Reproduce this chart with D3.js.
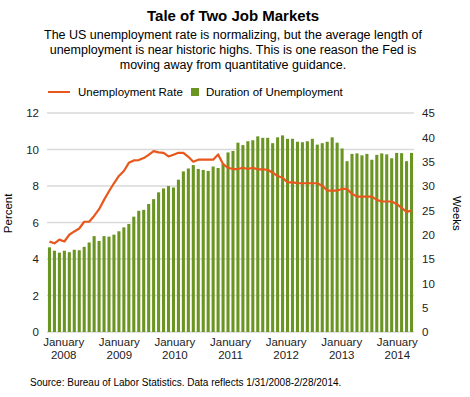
<!DOCTYPE html>
<html>
<head>
<meta charset="utf-8">
<script src="https://cdn.jsdelivr.net/npm/d3@7"></script>
<style>
  body { margin: 0; background: #fff; }
  svg { font-family: "Liberation Sans", Arial, sans-serif; }
</style>
</head>
<body>
<div id="chart"></div>
<script>
// monthly data, Jan 2008 - Feb 2014
const months = d3.timeMonth.range(new Date(2008, 0, 1), new Date(2014, 2, 1));

// unemployment rate, percent
const rate = [4.95, 4.86, 5.06, 4.96, 5.33, 5.51, 5.67, 6.04, 6.04, 6.36,
  6.73, 7.24, 7.71, 8.15, 8.55, 8.82, 9.27, 9.4, 9.42, 9.53,
  9.71, 9.91, 9.84, 9.82, 9.62, 9.71, 9.82, 9.82, 9.6, 9.33,
  9.44, 9.44, 9.44, 9.44, 9.73, 9.2, 9.0, 8.93, 8.93, 9.0,
  8.93, 9.0, 8.91, 8.91, 8.89, 8.73, 8.55, 8.45, 8.2, 8.2,
  8.16, 8.15, 8.15, 8.15, 8.15, 8.02, 7.75, 7.75, 7.75, 7.84,
  7.84, 7.57, 7.42, 7.42, 7.42, 7.42, 7.24, 7.15, 7.15, 7.15,
  7.02, 6.8, 6.58, 6.65];

// average duration of unemployment, weeks
const duration = [17.4, 16.7, 16.3, 16.7, 16.4, 16.9, 16.8, 17.5, 18.4, 19.7,
  18.7, 19.7, 19.6, 20.0, 20.7, 21.5, 22.2, 23.7, 24.9, 25.1,
  26.3, 27.3, 28.7, 29.5, 30.0, 29.7, 31.3, 33.0, 33.6, 34.3,
  33.5, 33.3, 33.1, 34.0, 33.7, 34.6, 36.9, 37.2, 38.9, 38.4,
  39.2, 39.4, 40.2, 39.9, 39.9, 38.8, 40.0, 40.4, 39.7, 39.7,
  39.1, 39.0, 39.2, 39.7, 38.5, 38.8, 39.1, 40.0, 38.9, 37.7,
  35.1, 36.6, 36.7, 36.3, 36.6, 35.4, 36.4, 36.7, 36.5, 35.7,
  36.8, 36.75, 35.1, 36.8];

const yearLabels = ["2008", "2009", "2010", "2011", "2012", "2013", "2014"];
const percentTicks = [0, 2, 4, 6, 8, 10, 12];
const weekTicks = [0, 5, 10, 15, 20, 25, 30, 35, 40, 45];

const width = 470, height = 397;
const margin = {top: 113, right: 56, bottom: 65, left: 47};
const orange = "#e8571b", green = "#6b9523";

const svg = d3.select("#chart").append("svg")
  .attr("width", width)
  .attr("height", height);

const x = d3.scaleBand()
  .domain(months.map((d, i) => i))
  .range([margin.left, width - margin.right])
  .paddingInner(0.38)
  .paddingOuter(0.19);

const yL = d3.scaleLinear().domain([0, 12]).range([height - margin.bottom, margin.top]);
const yR = d3.scaleLinear().domain([0, 45]).range([height - margin.bottom, margin.top]);

// title + subtitle
svg.append("text")
  .attr("x", 233).attr("y", 21)
  .attr("text-anchor", "middle")
  .style("font-size", "15px").style("font-weight", "bold")
  .text("Tale of Two Job Markets");

const sub = ["The US unemployment rate is normalizing, but the average length of",
  "unemployment is near historic highs. This is one reason the Fed is",
  "moving away from quantitative guidance."];
svg.append("g").selectAll("text")
  .data(sub).enter()
  .append("text")
  .attr("x", 233)
  .attr("y", (d, i) => 39 + i * 15)
  .attr("text-anchor", "middle")
  .style("font-size", "12.5px")
  .text(d => d);

// legend
const lg = svg.append("g").attr("transform", "translate(48,92)");
lg.append("line").attr("x1", 0).attr("x2", 22)
  .attr("stroke", orange).attr("stroke-width", 2);
lg.append("text").attr("x", 30).attr("y", 4).style("font-size", "11.5px").text("Unemployment Rate");
lg.append("rect").attr("x", 143).attr("y", -4).attr("width", 8).attr("height", 8).attr("fill", green);
lg.append("text").attr("x", 158).attr("y", 4).style("font-size", "11.5px").text("Duration of Unemployment");

// gridlines
svg.append("g").selectAll("line")
  .data(percentTicks).enter()
  .append("line")
  .attr("x1", margin.left).attr("x2", width - margin.right)
  .attr("y1", d => yL(d)).attr("y2", d => yL(d))
  .attr("stroke", "#d9d9d9").attr("stroke-width", 1.5);

// bars
svg.append("g").selectAll("rect")
  .data(duration).enter()
  .append("rect")
  .attr("x", (d, i) => x(i))
  .attr("width", x.bandwidth())
  .attr("y", d => yR(d))
  .attr("height", d => yR(0) - yR(d))
  .attr("fill", green);

// line
const line = d3.line()
  .x((d, i) => x(i) + x.bandwidth() / 2)
  .y(d => yL(d));
svg.append("path")
  .datum(rate)
  .attr("d", line)
  .attr("fill", "none")
  .attr("stroke", orange)
  .attr("stroke-width", 2.2)
  .attr("stroke-linejoin", "round");

// left axis
const axL = svg.append("g")
  .attr("transform", `translate(${margin.left - 8},0)`)
  .call(d3.axisLeft(yL).tickValues(percentTicks).tickSize(0).tickPadding(0));
axL.select(".domain").remove();
axL.selectAll("text").style("font-size", "11.5px").attr("fill", "#222");

// right axis
const axR = svg.append("g")
  .attr("transform", `translate(${width - margin.right + 8},0)`)
  .call(d3.axisRight(yR).tickValues(weekTicks).tickSize(0).tickPadding(0));
axR.select(".domain").remove();
axR.selectAll("text").style("font-size", "11.5px").attr("fill", "#222");

// x labels
const xl = d3.scalePoint()
  .domain(yearLabels)
  .range([margin.left, width - margin.right])
  .padding(0.3);
const xg = svg.append("g").selectAll("text")
  .data(yearLabels).enter()
  .append("text")
  .attr("x", d => xl(d))
  .attr("y", height - margin.bottom + 14)
  .attr("text-anchor", "middle")
  .style("font-size", "11.5px")
  .attr("fill", "#222");
xg.append("tspan").attr("x", d => xl(d)).text("January");
xg.append("tspan").attr("x", d => xl(d)).attr("dy", 13).text(d => d);

// axis titles
svg.append("text")
  .attr("transform", `translate(12,${yL(6.5)}) rotate(-90)`)
  .attr("text-anchor", "middle")
  .style("font-size", "11.5px")
  .text("Percent");
svg.append("text")
  .attr("transform", `translate(453,${yL(6.5)}) rotate(90)`)
  .attr("text-anchor", "middle")
  .style("font-size", "11.5px")
  .text("Weeks");

// source
svg.append("text")
  .attr("x", 30).attr("y", 386)
  .style("font-size", "10px")
  .text("Source: Bureau of Labor Statistics. Data reflects 1/31/2008-2/28/2014.");
</script>
</body>
</html>
